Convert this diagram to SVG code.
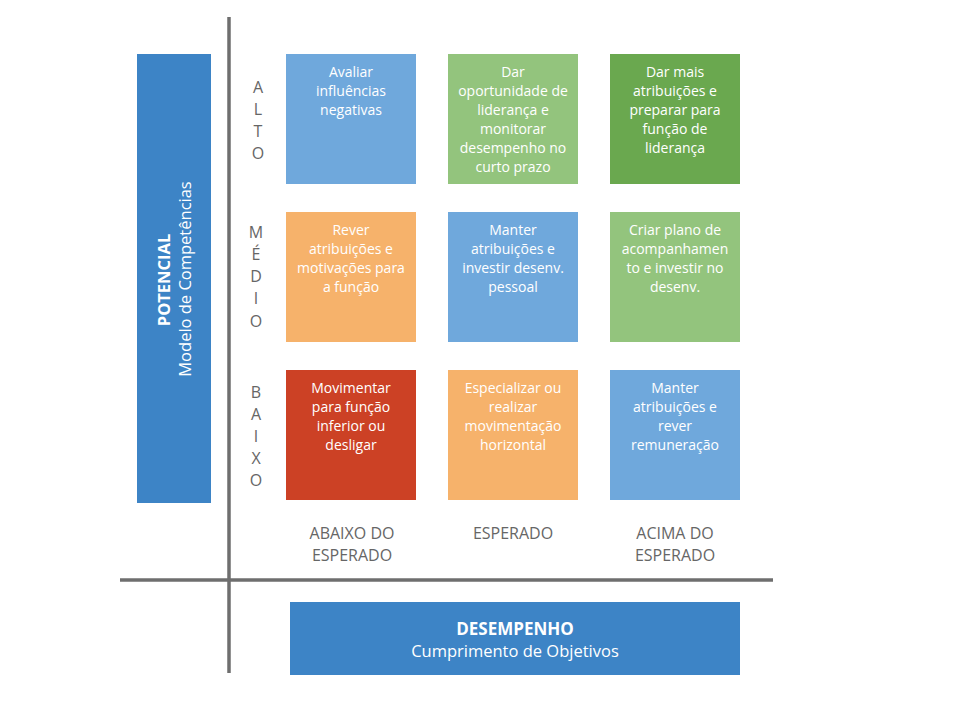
<svg xmlns="http://www.w3.org/2000/svg" width="960" height="720" viewBox="0 0 960 720">
<style>
.cell text, .ct{font-family:"Open Sans","Noto Sans",sans-serif;font-size:14px;fill:#ffffff;text-anchor:middle}
.lbl{font-family:"Open Sans","Noto Sans",sans-serif;font-size:16px;fill:#666666;text-anchor:middle}
.axis{stroke:#6e6e6e;stroke-width:3.5}
.hdr{fill:#3d84c6}
.ht{font-family:"Open Sans","Noto Sans",sans-serif;fill:#ffffff;text-anchor:middle}
</style>
<rect width="960" height="720" fill="#ffffff"/>
<g id="axes">
<line class="axis" x1="229" y1="17" x2="229" y2="673"/>
<line class="axis" x1="120" y1="580" x2="773" y2="580"/>
</g>
<g id="potencial">
<rect class="hdr" x="137" y="54" width="74" height="449"/>
<text class="ht" transform="translate(170,280) rotate(-90)" font-size="16.5" font-weight="bold">POTENCIAL</text>
<text class="ht" transform="translate(191,279) rotate(-90)" font-size="16.5">Modelo de Competências</text>
</g>
<g id="desempenho">
<rect class="hdr" x="290" y="602" width="450" height="73"/>
<text class="ht" x="515" y="635" font-size="17" font-weight="bold">DESEMPENHO</text>
<text class="ht" x="515" y="657" font-size="16.5">Cumprimento de Objetivos</text>
</g>
<g id="row-labels" class="lbl">
<text x="258" y="93">A</text><text x="258" y="115">L</text><text x="258" y="137">T</text><text x="258" y="159">O</text>
<text x="256" y="238">M</text><text x="256" y="260">É</text><text x="256" y="282">D</text><text x="256" y="304">I</text><text x="256" y="327">O</text>
<text x="256" y="398">B</text><text x="256" y="420">A</text><text x="256" y="442">I</text><text x="256" y="464">X</text><text x="256" y="486">O</text>
</g>
<g id="col-labels" class="lbl">
<text x="352" y="539">ABAIXO DO</text><text x="352" y="561">ESPERADO</text>
<text x="513" y="539">ESPERADO</text>
<text x="675" y="539">ACIMA DO</text><text x="675" y="561">ESPERADO</text>
</g>
<g id="c-alto-abaixo" class="cell">
<rect x="286" y="54" width="130" height="130" fill="#6fa8dc"/>
<text x="351" y="77">Avaliar</text><text x="351" y="96">influências</text><text x="351" y="115">negativas</text>
</g>
<g id="c-alto-esperado" class="cell">
<rect x="448" y="54" width="130" height="130" fill="#93c47d"/>
<text x="513" y="77">Dar</text><text x="513" y="96">oportunidade de</text><text x="513" y="115">liderança e</text><text x="513" y="134">monitorar</text><text x="513" y="153">desempenho no</text><text x="513" y="172">curto prazo</text>
</g>
<g id="c-alto-acima" class="cell">
<rect x="610" y="54" width="130" height="130" fill="#6aa84f"/>
<text x="675" y="77">Dar mais</text><text x="675" y="96">atribuições e</text><text x="675" y="115">preparar para</text><text x="675" y="134">função de</text><text x="675" y="153">liderança</text>
</g>
<g id="c-medio-abaixo" class="cell">
<rect x="286" y="212" width="130" height="130" fill="#f6b26b"/>
<text x="351" y="235">Rever</text><text x="351" y="254">atribuições e</text><text x="351" y="273">motivações para</text><text x="351" y="292">a função</text>
</g>
<g id="c-medio-esperado" class="cell">
<rect x="448" y="212" width="130" height="130" fill="#6fa8dc"/>
<text x="513" y="235">Manter</text><text x="513" y="254">atribuições e</text><text x="513" y="273">investir desenv.</text><text x="513" y="292">pessoal</text>
</g>
<g id="c-medio-acima" class="cell">
<rect x="610" y="212" width="130" height="130" fill="#93c47d"/>
<text x="675" y="235">Criar plano de</text><text x="675" y="254">acompanhamen</text><text x="675" y="273">to e investir no</text><text x="675" y="292">desenv.</text>
</g>
<g id="c-baixo-abaixo" class="cell">
<rect x="286" y="370" width="130" height="130" fill="#cc4125"/>
<text x="351" y="393">Movimentar</text><text x="351" y="412">para função</text><text x="351" y="431">inferior ou</text><text x="351" y="450">desligar</text>
</g>
<g id="c-baixo-esperado" class="cell">
<rect x="448" y="370" width="130" height="130" fill="#f6b26b"/>
<text x="513" y="393">Especializar ou</text><text x="513" y="412">realizar</text><text x="513" y="431">movimentação</text><text x="513" y="450">horizontal</text>
</g>
<g id="c-baixo-acima" class="cell">
<rect x="610" y="370" width="130" height="130" fill="#6fa8dc"/>
<text x="675" y="393">Manter</text><text x="675" y="412">atribuições e</text><text x="675" y="431">rever</text><text x="675" y="450">remuneração</text>
</g>
</svg>
